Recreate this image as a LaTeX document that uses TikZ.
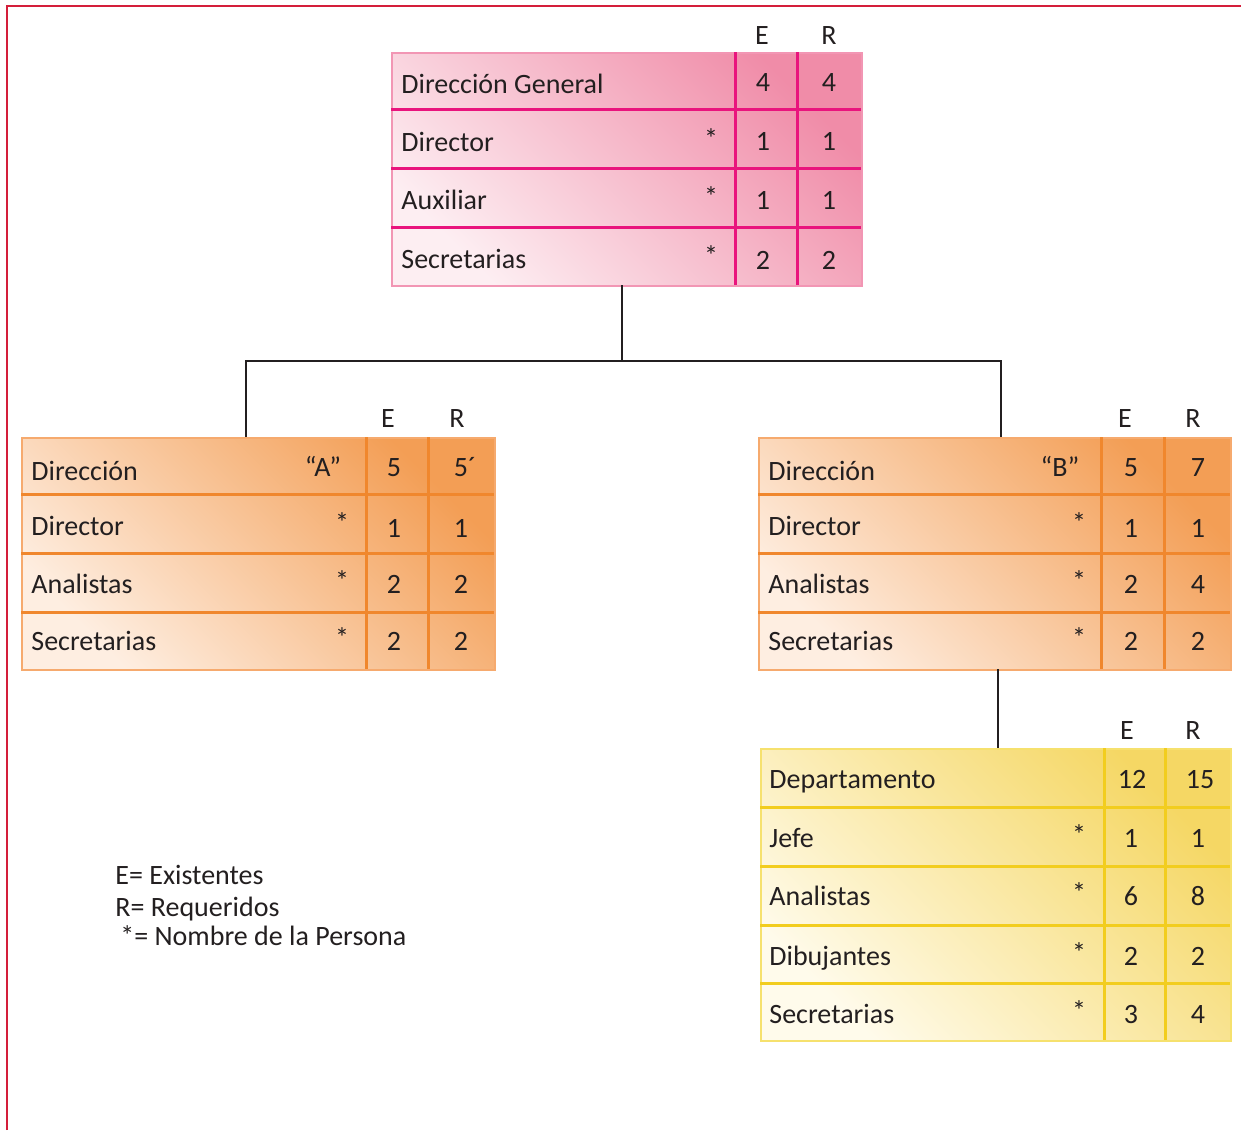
\documentclass[tikz,border=0pt]{standalone}
\usepackage{fontspec}
\setmainfont{Carlito}
\definecolor{framered}{RGB}{212,30,58}
\definecolor{ink}{RGB}{35,31,32}
\definecolor{pinkline}{RGB}{233,20,125}
\definecolor{pinkedge}{RGB}{242,150,180}
\definecolor{pinkdark}{RGB}{240,140,168}
\definecolor{pinklight}{RGB}{253,238,242}
\definecolor{orangeline}{RGB}{240,135,45}
\definecolor{orangeedge}{RGB}{246,170,110}
\definecolor{orangedark}{RGB}{243,158,85}
\definecolor{orangelight}{RGB}{254,238,225}
\definecolor{yellowline}{RGB}{242,205,30}
\definecolor{yellowedge}{RGB}{246,225,110}
\definecolor{yellowdark}{RGB}{245,215,100}
\definecolor{yellowlight}{RGB}{255,251,235}
\tikzset{
  frame/.style={draw=framered, line width=1.4pt},
  conn/.style={draw=ink, line width=1.3pt},
  tblbox/.style={rectangle, inner sep=0pt, anchor=north west, line width=1.2pt},
  rowline/.style={line width=1.5pt},
  lbl/.style={anchor=base west, inner sep=0pt, text=ink, font=\fontsize{14}{16}\selectfont},
  num/.style={anchor=base, inner sep=0pt, text=ink, font=\fontsize{14}{16}\selectfont},
  star/.style={anchor=base, inner sep=0pt, text=ink, font=\fontsize{14}{16}\selectfont},
}
\begin{document}
\begin{tikzpicture}[x=0.5pt, y=-0.5pt]
  \useasboundingbox (0,0) rectangle (1241,1130);
  \draw[frame] (7,1130) -- (7,6) -- (1241,6);

  % Direccion General
  \node[tblbox, draw=pinkedge, top color=pinkdark, bottom color=pinklight,
        shading angle=-45, minimum width=235pt, minimum height=116.5pt] (dg) at (391,52) {};
  \draw[rowline, pinkline]
    (391,109) -- (861,109) (391,168) -- (861,168) (391,227) -- (861,227)
    (735,52) -- (735,285) (797,52) -- (797,285);
  \path
    (762,44) node[num] (dgE){E}
    (829,44) node[num] (dgR){R}
    (401,93) node[lbl] (dg0){Dirección General}
    (763,91) node[num] (dg0e){4}
    (829,91) node[num] (dg0r){4}
    (401,151) node[lbl] (dg1){Director}
    (711,148) node[star] (dg1s){*}
    (763,150) node[num] (dg1e){1}
    (829,150) node[num] (dg1r){1}
    (401,209) node[lbl] (dg2){Auxiliar}
    (711,206) node[star] (dg2s){*}
    (763,209) node[num] (dg2e){1}
    (829,209) node[num] (dg2r){1}
    (401,268) node[lbl] (dg3){Secretarias}
    (711,265) node[star] (dg3s){*}
    (763,269) node[num] (dg3e){2}
    (829,269) node[num] (dg3r){2};

  % Direccion A
  \node[tblbox, draw=orangeedge, top color=orangedark, bottom color=orangelight,
        shading angle=-45, minimum width=236.5pt, minimum height=116pt] (da) at (21,437) {};
  \draw[rowline, orangeline]
    (21,494) -- (494,494) (21,553) -- (494,553) (21,612) -- (494,612)
    (366,437) -- (366,669) (428,437) -- (428,669);
  \path
    (388,427) node[num] (daE){E}
    (457,427) node[num] (daR){R}
    (31,480) node[lbl] (da0){Dirección}
    (323,476) node[num] (da0n){“A”}
    (394,476) node[num] (da0e){5}
    (465,476) node[num] (da0r){5´}
    (31,535) node[lbl] (da1){Director}
    (342,532) node[star] (da1s){*}
    (394,537) node[num] (da1e){1}
    (461,537) node[num] (da1r){1}
    (31,593) node[lbl] (da2){Analistas}
    (342,590) node[star] (da2s){*}
    (394,593) node[num] (da2e){2}
    (461,593) node[num] (da2r){2}
    (31,650) node[lbl] (da3){Secretarias}
    (342,647) node[star] (da3s){*}
    (394,650) node[num] (da3e){2}
    (461,650) node[num] (da3r){2};

  % Direccion B
  \node[tblbox, draw=orangeedge, top color=orangedark, bottom color=orangelight,
        shading angle=-45, minimum width=236pt, minimum height=116pt] (db) at (758,437) {};
  \draw[rowline, orangeline]
    (758,494) -- (1230,494) (758,553) -- (1230,553) (758,612) -- (1230,612)
    (1101,437) -- (1101,669) (1164,437) -- (1164,669);
  \path
    (1125,427) node[num] (dbE){E}
    (1193,427) node[num] (dbR){R}
    (768,480) node[lbl] (db0){Dirección}
    (1060,476) node[num] (db0n){“B”}
    (1131,476) node[num] (db0e){5}
    (1198,476) node[num] (db0r){7}
    (768,535) node[lbl] (db1){Director}
    (1079,532) node[star] (db1s){*}
    (1131,537) node[num] (db1e){1}
    (1198,537) node[num] (db1r){1}
    (768,593) node[lbl] (db2){Analistas}
    (1079,590) node[star] (db2s){*}
    (1131,593) node[num] (db2e){2}
    (1198,593) node[num] (db2r){4}
    (768,650) node[lbl] (db3){Secretarias}
    (1079,647) node[star] (db3s){*}
    (1131,650) node[num] (db3e){2}
    (1198,650) node[num] (db3r){2};

  % Departamento
  \node[tblbox, draw=yellowedge, top color=yellowdark, bottom color=yellowlight,
        shading angle=-45, minimum width=235pt, minimum height=146pt] (dd) at (760,748) {};
  \draw[rowline, yellowline]
    (760,807) -- (1230,807) (760,866) -- (1230,866) (760,925) -- (1230,925)
    (760,983) -- (1230,983)
    (1104,748) -- (1104,1040) (1165,748) -- (1165,1040);
  \path
    (1127,739) node[num] (ddE){E}
    (1193,739) node[num] (ddR){R}
    (769,788) node[lbl] (dd0){Departamento}
    (1132,788) node[num] (dd0e){12}
    (1200,788) node[num] (dd0r){15}
    (769,847) node[lbl] (dd1){Jefe}
    (1079,844) node[star] (dd1s){*}
    (1131,847) node[num] (dd1e){1}
    (1198,847) node[num] (dd1r){1}
    (769,905) node[lbl] (dd2){Analistas}
    (1079,902) node[star] (dd2s){*}
    (1131,905) node[num] (dd2e){6}
    (1198,905) node[num] (dd2r){8}
    (769,965) node[lbl] (dd3){Dibujantes}
    (1079,962) node[star] (dd3s){*}
    (1131,965) node[num] (dd3e){2}
    (1198,965) node[num] (dd3r){2}
    (769,1023) node[lbl] (dd4){Secretarias}
    (1079,1020) node[star] (dd4s){*}
    (1131,1023) node[num] (dd4e){3}
    (1198,1023) node[num] (dd4r){4};

  % conectores
  \coordinate (jg) at (622,285);
  \coordinate (hub) at (622,361);
  \coordinate (ja) at (246,437);
  \coordinate (jb) at (1001,437);
  \coordinate (jb2) at (998,669);
  \coordinate (jd) at (998,748);
  \draw[conn] (jg) -- (hub);
  \draw[conn] (ja) |- (hub) -| (jb);
  \draw[conn] (jb2) -- (jd);

  % leyenda
  \path
    (115,884) node[lbl] (leyE){E= Existentes}
    (115,916) node[lbl] (leyR){R= Requeridos}
    (120,945) node[lbl] (leyS){*= Nombre de la Persona};
\end{tikzpicture}
\end{document}
